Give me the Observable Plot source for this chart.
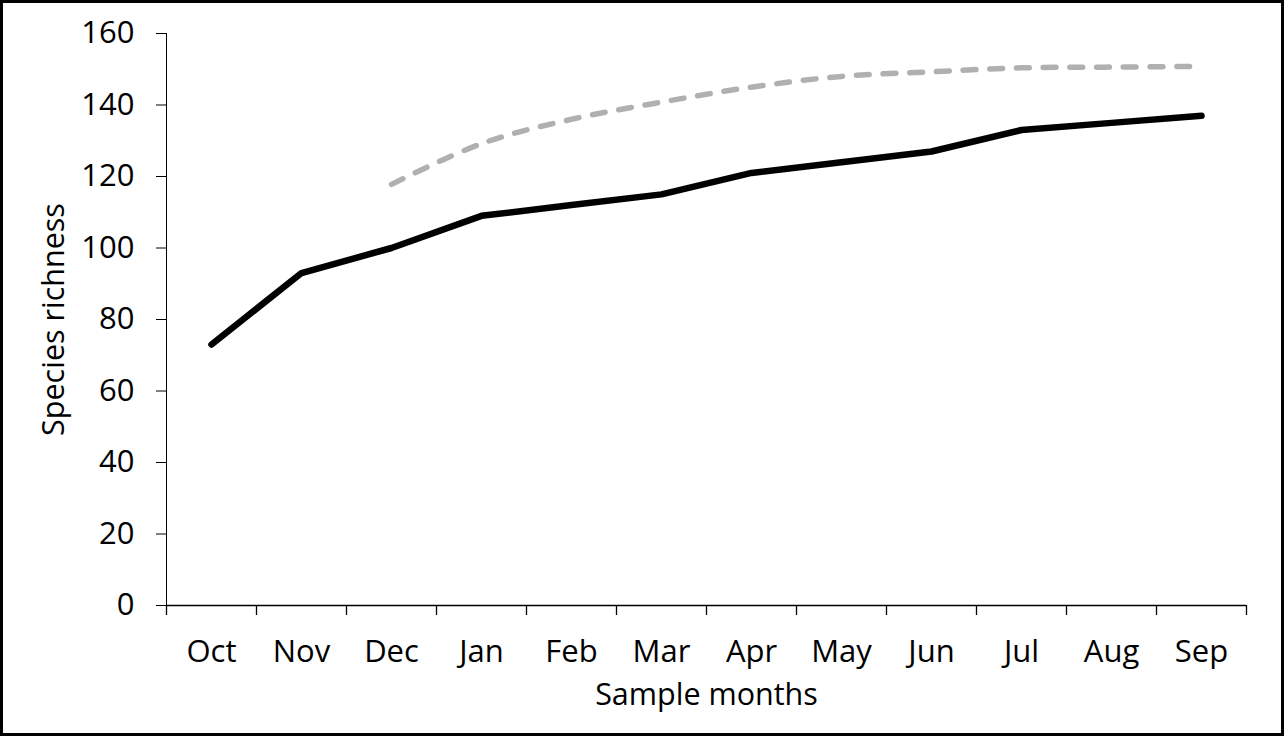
<!DOCTYPE html>
<html>
<head>
<meta charset="utf-8">
<script src="https://cdn.jsdelivr.net/npm/d3@7"></script>
<script src="https://cdn.jsdelivr.net/npm/@observablehq/plot@0.6"></script>
<style>
  html, body { margin: 0; padding: 0; background: #fff; }
  #wrap { position: relative; width: 1284px; height: 736px; overflow: hidden; }
  #wrap svg { display: block; }
  #border { position: absolute; left: 0; top: 0; width: 1284px; height: 736px; box-sizing: border-box; border: 3px solid #000; pointer-events: none; }
</style>
</head>
<body>
<div id="wrap"><div id="border"></div></div>
<script>
const months = ["Oct", "Nov", "Dec", "Jan", "Feb", "Mar", "Apr", "May", "Jun", "Jul", "Aug", "Sep"];
const observed = [73, 93, 100, 109, 112, 115, 121, 124, 127, 133, 135, 137];
const estimated = [null, null, 117.8, 129.2, 136, 140.8, 145, 148, 149.3, 150.4, 150.6, 150.8];
const yTicks = [0, 20, 40, 60, 80, 100, 120, 140, 160];
const xTitle = "Sample months";
const yTitle = "Species richness";

const obsRows = months.map((m, i) => ({month: m, value: observed[i]}));
const estRows = months.map((m, i) => ({month: m, value: estimated[i]})).filter(d => d.value != null);

const W = 1284, H = 736, mL = 166, mR = 38, mT = 33, mB = 131;
const halfStep = (W - mL - mR) / months.length / 2;

const chart = Plot.plot({
  width: W,
  height: H,
  marginLeft: mL,
  marginRight: mR,
  marginTop: mT,
  marginBottom: mB,
  style: {fontFamily: "'Open Sans', 'Noto Sans', sans-serif", fontSize: "31px", color: "#000", background: "#fff", overflow: "visible"},
  x: {type: "point", domain: months, padding: 0.5, label: null, tickSize: 0, tickPadding: 34},
  y: {domain: [0, 160], ticks: yTicks, tickSize: 10, tickPadding: 22, label: null, line: true},
  marks: [
    Plot.ruleY([0], {stroke: "#000", strokeWidth: 1.3}),
    Plot.ruleX(months, {x: d => d, y1: 0, y2: 0, dx: -halfStep, insetBottom: -10, stroke: "#000", strokeWidth: 1.3}),
    Plot.ruleX([months[months.length - 1]], {x: d => d, y1: 0, y2: 0, dx: halfStep, insetBottom: -10, stroke: "#000", strokeWidth: 1.3}),
    Plot.line(estRows, {x: "month", y: "value", stroke: "#b0b0b0", strokeWidth: 5.5, strokeDasharray: "12.8,13.9", strokeLinecap: "round", curve: "catmull-rom"}),
    Plot.line(obsRows, {x: "month", y: "value", stroke: "#000", strokeWidth: 6.5, strokeLinecap: "round", strokeLinejoin: "round"}),
    Plot.text([xTitle], {frameAnchor: "bottom", textAnchor: "middle", dy: 99, fontSize: 30.5, fill: "#000"}),
    Plot.text([yTitle], {frameAnchor: "left", textAnchor: "middle", dx: -112, rotate: -90, fontSize: 30.5, fill: "#000"})
  ]
});
document.getElementById("wrap").insertBefore(chart, document.getElementById("border"));
</script>
</body>
</html>
